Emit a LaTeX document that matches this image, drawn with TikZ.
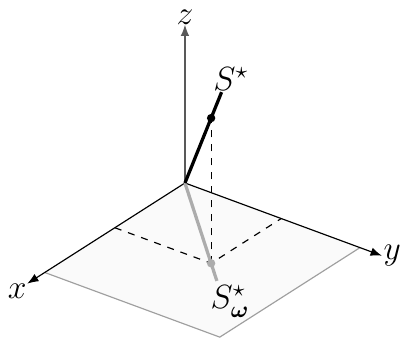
\documentclass[tikz,border=0pt]{standalone}
\usepackage{amsmath,amssymb,bm}
\usepackage{tikz}
\usetikzlibrary{arrows.meta}

\begin{document}
\begin{tikzpicture}[
  x={(-10.575mm,-6.75mm)}, y={(13.2mm,-4.875mm)}, z={(0mm,10.95mm)},
  axis/.style={-{Latex[length=1.7mm,width=1.3mm]}, line width=0.5pt},
  plane/.style={fill=gray!4},
  rim/.style={gray!75, line width=0.5pt},
  proj/.style={dashed, line width=0.5pt},
  vec/.style={line width=1.4pt},
  dot/.style={circle, fill, inner sep=0pt, minimum size=3.6pt},
  lbl/.style={font=\fontsize{14.5}{17}\selectfont}
]
% ---------------- frame ----------------
\begin{scope}[x=0.15mm, y=0.15mm]
  \useasboundingbox (-186,-153) rectangle (216,184);
\end{scope}
% ---------------- points ----------------
\coordinate (O) at (0,0,0);
\coordinate (P) at (1,1.1,0);
\coordinate (S) at (1,1.1,2);
\coordinate (Px) at (1,0,0);
\coordinate (Py) at (0,1.1,0);
\coordinate (Stop) at (1.4,1.54,2.8);
\coordinate (Pend) at (1.22,1.342,0);
% ---------------- plane ----------------
\fill[plane] (0,0,0) -- (2,0,0) -- (2,2,0) -- (0,2,0) -- cycle;
\draw[rim] (2,0,0) -- (2,2,0) -- (0,2,0);
% ---------------- projections ----------------
\draw[proj] (Px) -- (P) -- (Py);
\draw[proj] (P) -- (S);
% ---------------- axes ----------------
\draw[axis] (O) -- (2.25,0,0) node[lbl, below left, inner sep=0pt] (xl) {$x$};
\draw[axis] (O) -- (0,2.25,0) node[lbl, right, inner sep=0.5pt] (yl) {$y$};
\draw[axis, gray!70!black] (O) -- (0,0,2.18) node[lbl, above, inner sep=0pt, black] (zl) {$z$};
% ---------------- vectors ----------------
\draw[vec, gray!65] (O) -- (Pend);
\node[dot, gray!65] (Pdot) at (P) {};
\draw[vec] (O) -- (Stop);
\node[dot] (Sdot) at (S) {};
\node[lbl, above, inner sep=0.5pt, xshift=1.4mm] (Sl) at (Stop) {$S^\star$};
\node[lbl, xshift=1.3mm, yshift=-0.9mm] (Swl) at (1.4,1.54,0) {$S^\star_{\bm{\omega}}$};
\end{tikzpicture}
\end{document}
